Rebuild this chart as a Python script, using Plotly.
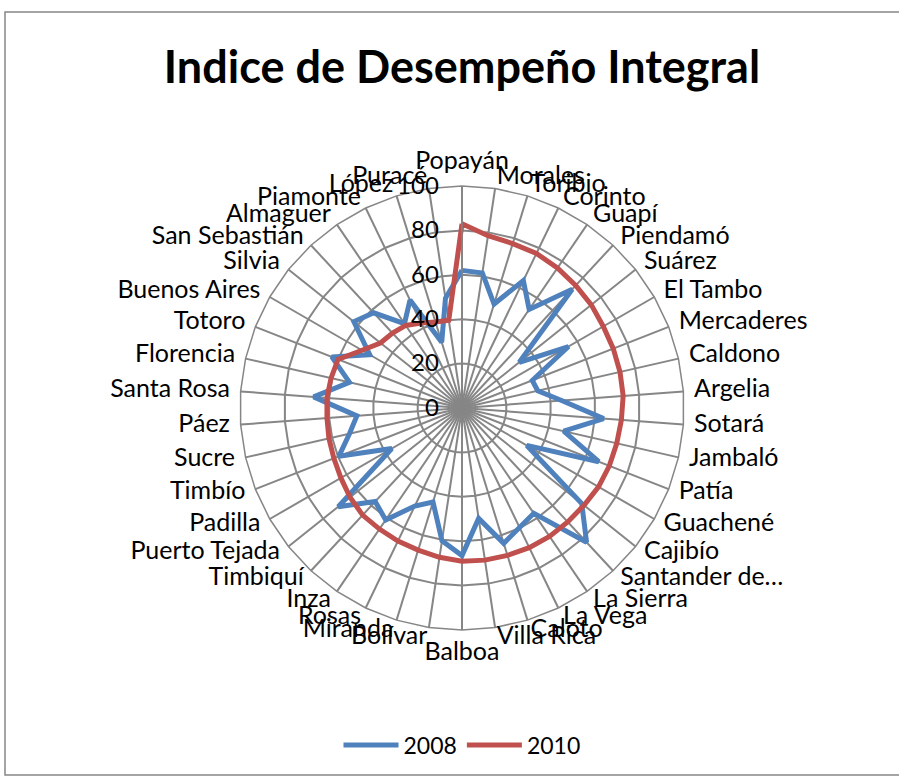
import plotly.graph_objects as go

# Municipios del Cauca, en el orden del eje angular (sentido horario desde arriba)
municipios = [
    "Popayán", "Morales", "Toribio", "Corinto", "Guapí", "Piendamó", "Suárez",
    "El Tambo", "Mercaderes", "Caldono", "Argelia", "Sotará", "Jambaló", "Patía",
    "Guachené", "Cajibío", "Santander de…", "La Sierra", "La Vega", "Caloto",
    "Villa Rica", "Balboa", "Bolívar", "Miranda", "Rosas", "Inza", "Timbiquí",
    "Puerto Tejada", "Padilla", "Timbío", "Sucre", "Páez", "Santa Rosa",
    "Florencia", "Totoro", "Buenos Aires", "Silvia", "San Sebastián", "Almaguer",
    "Piamonte", "López", "Puracé",
]

idi_2008 = [
    62, 61.5, 49, 63.7, 53.7, 73, 33, 55.4, 34, 35, 45, 64, 47, 66.2,
    33.7, 69, 82.5, 57.4, 59.7, 63.8, 50.3, 66.5, 60.5, 44.3, 49, 61, 57.5,
    71.3, 36.5, 59.6, 52, 47.5, 67, 52, 63, 48, 62.3, 58.5, 46, 54, 31, 50,
]

idi_2010 = [
    83, 78.5, 77.5, 77.3, 76.3, 75.3, 74.5, 73.5, 73.2, 73, 72.8, 72, 71.5, 71.3,
    71, 70.3, 70, 70, 69.8, 69.5, 69.3, 69, 68, 67, 66.5, 66, 65.8,
    64.5, 63, 62, 61.5, 61, 61, 60.5, 60, 52, 47, 46, 45, 42.5, 40.5, 40,
]

radial_ticks = [0, 20, 40, 60, 80, 100]

series = [("2008", idi_2008, "#4F81BD"), ("2010", idi_2010, "#C0504D")]

FONT = "Lato"
GRID = "#868686"

W, H = 899, 778
cx, cy = 462, 408
R = 222          # radius of the 100 ring
R_LABEL = 233    # radius at which the category names are anchored

fig = go.Figure()
for name, values, color in series:
    fig.add_trace(go.Scatterpolar(
        r=values + values[:1],
        theta=municipios + municipios[:1],
        mode="lines",
        name=name,
        line=dict(color=color, width=5),
        subplot="polar",
    ))

# Category names live on a second, invisible polar frame that is slightly
# larger than the data frame: right half anchored on their left edge, left
# half on their right edge, top and bottom names centred.
n = len(municipios)
positions = []
for i in range(n):
    if i == 0:
        positions.append("top center")
    elif 2 * i == n:
        positions.append("bottom center")
    elif 2 * i < n:
        positions.append("middle right")
    else:
        positions.append("middle left")

fig.add_trace(go.Scatterpolar(
    r=[99.9] * n,
    theta=municipios,
    mode="text",
    text=municipios,
    textposition=positions,
    textfont=dict(family=FONT, size=25, color="black"),
    cliponaxis=False,
    showlegend=False,
    hoverinfo="skip",
    subplot="polar2",
))


def square_domain(radius):
    return dict(
        x=[(cx - radius) / W, (cx + radius) / W],
        y=[(H - cy - radius) / H, (H - cy + radius) / H],
    )


fig.update_layout(
    width=W, height=H,
    margin=dict(l=0, r=0, t=0, b=0),
    paper_bgcolor="white",
    plot_bgcolor="white",
    font=dict(family=FONT, size=25, color="black"),
    title=dict(
        text="<b>Indice de Desempeño Integral</b>",
        font=dict(family=FONT, size=45, color="black"),
        x=cx / W, xanchor="center",
        y=1 - 67 / H, yanchor="middle", yref="container",
    ),
    polar=dict(
        domain=square_domain(R),
        bgcolor="white",
        gridshape="linear",
        angularaxis=dict(
            direction="clockwise",
            rotation=90,
            showgrid=True,
            gridcolor=GRID,
            gridwidth=1.5,
            showline=True,
            linecolor=GRID,
            linewidth=1.5,
            ticks="",
            showticklabels=False,
        ),
        radialaxis=dict(
            range=[0, 100],
            tickvals=radial_ticks,
            angle=90,
            side="counterclockwise",
            showgrid=True,
            gridcolor=GRID,
            gridwidth=1.5,
            showline=True,
            linecolor=GRID,
            linewidth=1.5,
            ticks="outside",
            ticklen=14,
            tickcolor="rgba(0,0,0,0)",
            tickangle=90,
            tickfont=dict(family=FONT, size=24, color="black"),
        ),
    ),
    polar2=dict(
        domain=square_domain(R_LABEL),
        bgcolor="rgba(0,0,0,0)",
        angularaxis=dict(
            direction="clockwise",
            rotation=90,
            visible=False,
        ),
        radialaxis=dict(range=[0, 100], visible=False),
    ),
    legend=dict(
        orientation="h",
        x=cx / W, xanchor="center",
        y=1 - 745 / H, yanchor="middle",
        font=dict(family=FONT, size=23, color="black"),
        itemwidth=55,
    ),
    shapes=[dict(
        type="rect", xref="paper", yref="paper",
        x0=5 / W, x1=1.02, y0=1 - 775 / H, y1=1 - 12 / H,
        line=dict(color=GRID, width=1.5),
    )],
)

fig.write_html("out.html")
